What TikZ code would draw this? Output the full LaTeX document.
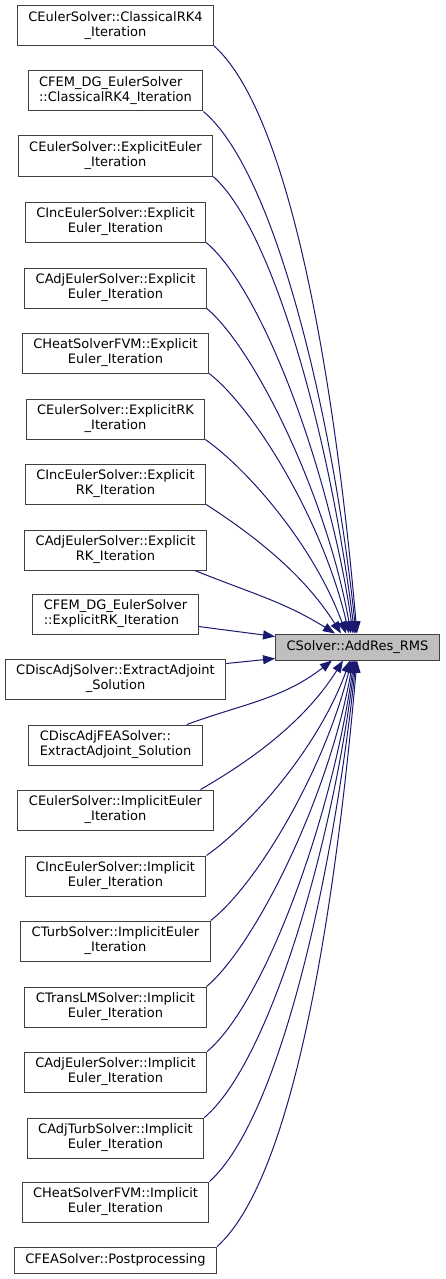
\documentclass[tikz,border=0pt]{standalone}
\usepackage{fontspec}
\setmainfont{DejaVu Sans}
\usepackage{xcolor}
\usetikzlibrary{arrows.meta,calc}
\definecolor{midnight}{HTML}{191970}

\begin{document}
\begin{tikzpicture}[
    x=1pt, y=1pt,
    box/.style={rectangle, draw=black!75, line width=1pt, fill=white, inner xsep=11pt, inner ysep=2pt, minimum height=40pt, align=center, font=\fontsize{13}{15}\selectfont},
    edge/.style={draw=midnight, line width=1pt, -{Triangle[length=12pt,width=9pt]}}
]
    \useasboundingbox (0,0) rectangle (445,-1279);

    % callers, top to bottom
    \node[box] (eulerRK4) at (115.5,-25.5) {CEulerSolver::ClassicalRK4\\\_Iteration};
    \node[box, align=left] (femRK4) at (115.5,-91) {CFEM\_DG\_EulerSolver\\::ClassicalRK4\_Iteration};
    \node[box] (eulerExpl) at (115.5,-156) {CEulerSolver::ExplicitEuler\\\_Iteration};
    \node[box] (incExpl) at (115.5,-222) {CIncEulerSolver::Explicit\\Euler\_Iteration};
    \node[box] (adjExpl) at (115.5,-288) {CAdjEulerSolver::Explicit\\Euler\_Iteration};
    \node[box] (heatExpl) at (115.5,-353) {CHeatSolverFVM::Explicit\\Euler\_Iteration};
    \node[box] (eulerRK) at (115.5,-419) {CEulerSolver::ExplicitRK\\\_Iteration};
    \node[box] (incRK) at (115.5,-484) {CIncEulerSolver::Explicit\\RK\_Iteration};
    \node[box] (adjRK) at (115.5,-550) {CAdjEulerSolver::Explicit\\RK\_Iteration};
    \node[box, align=left] (femRK) at (115.5,-614) {CFEM\_DG\_EulerSolver\\::ExplicitRK\_Iteration};
    \node[box] (discAdj) at (115.5,-679) {CDiscAdjSolver::ExtractAdjoint\\\_Solution};
    \node[box, align=left] (discAdjFEA) at (115.5,-745) {CDiscAdjFEASolver::\\ExtractAdjoint\_Solution};
    \node[box] (eulerImpl) at (115.5,-810) {CEulerSolver::ImplicitEuler\\\_Iteration};
    \node[box] (incImpl) at (115.5,-876) {CIncEulerSolver::Implicit\\Euler\_Iteration};
    \node[box] (turbImpl) at (115.5,-941) {CTurbSolver::ImplicitEuler\\\_Iteration};
    \node[box] (transImpl) at (115.5,-1007) {CTransLMSolver::Implicit\\Euler\_Iteration};
    \node[box] (adjImpl) at (115.5,-1072) {CAdjEulerSolver::Implicit\\Euler\_Iteration};
    \node[box] (adjTurbImpl) at (115.5,-1138) {CAdjTurbSolver::Implicit\\Euler\_Iteration};
    \node[box] (heatImpl) at (115.5,-1202) {CHeatSolverFVM::Implicit\\Euler\_Iteration};
    \node[box, minimum height=26pt] (feaPost) at (115.5,-1260) {CFEASolver::Postprocessing};

    % the called function
    \node[box, fill=black!25, minimum height=26pt] (addres) at (357.5,-647) {CSolver::AddRes\_RMS};

    % calls from above
    \draw[edge] (eulerRK4.south east) to[out=-42, in=95, out looseness=.45] ([xshift=-0.5pt]addres.north);
    \draw[edge] (femRK4.south east) to[out=-40, in=96, out looseness=.45] ([xshift=-1.5pt]addres.north);
    \draw[edge] (eulerExpl.south east) to[out=-42, in=97, out looseness=.45] ([xshift=-3pt]addres.north);
    \draw[edge] (incExpl.south east) to[out=-40, in=98, out looseness=.45] ([xshift=-4.5pt]addres.north);
    \draw[edge] (adjExpl.south east) to[out=-40, in=100, out looseness=.45] ([xshift=-6.5pt]addres.north);
    \draw[edge] (heatExpl.south east) to[out=-38, in=103, out looseness=.5] ([xshift=-8.5pt]addres.north);
    \draw[edge] (eulerRK.south east) to[out=-35, in=110, out looseness=.55] ([xshift=-11.5pt]addres.north);
    \draw[edge] (incRK.south east) to[out=-33, in=122, out looseness=.7] ([xshift=-16.5pt]addres.north);
    \draw[edge] ([xshift=-12pt]adjRK.south east) to[out=-22, in=148] ([xshift=-22.5pt]addres.north);
    \draw[edge] ([yshift=8pt]femRK.south east) -- ([yshift=-3pt]addres.north west);
    \draw[edge] ([yshift=-5pt]discAdj.north east) -- ([yshift=2pt]addres.south west);

    % calls from below
    \draw[edge] ([xshift=-16pt]discAdjFEA.north east) to[out=20, in=-142] ([xshift=-25.5pt]addres.south);
    \draw[edge] ([xshift=-13pt]eulerImpl.north east) to[out=30, in=-122, out looseness=.7] ([xshift=-14.5pt]addres.south);
    \draw[edge] (incImpl.north east) to[out=35, in=-110, out looseness=.55] ([xshift=-7.5pt]addres.south);
    \draw[edge] (turbImpl.north east) to[out=38, in=-104, out looseness=.5] ([xshift=-6pt]addres.south);
    \draw[edge] (transImpl.north east) to[out=40, in=-100, out looseness=.45] ([xshift=-4.5pt]addres.south);
    \draw[edge] (adjImpl.north east) to[out=40, in=-98, out looseness=.45] ([xshift=-3.5pt]addres.south);
    \draw[edge] (adjTurbImpl.north east) to[out=40, in=-97, out looseness=.45] ([xshift=-2.5pt]addres.south);
    \draw[edge] (heatImpl.north east) to[out=42, in=-96, out looseness=.45] ([xshift=-1.5pt]addres.south);
    \draw[edge] (feaPost.north east) to[out=42, in=-95, out looseness=.45] ([xshift=-0.5pt]addres.south);
\end{tikzpicture}
\end{document}
